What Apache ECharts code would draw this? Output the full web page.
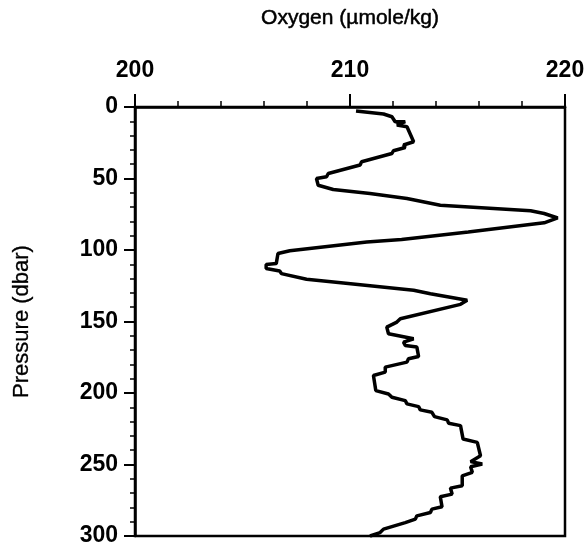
<!DOCTYPE html>
<html>
<head>
<meta charset="utf-8">
<script src="https://cdn.jsdelivr.net/npm/echarts@6/dist/echarts.min.js"></script>
<style>html,body{margin:0;padding:0;background:#fff}#c{width:588px;height:553px}</style>
</head>
<body>
<div id="c"></div>
<script>
var pressure = [2.8,4.9,6.8,10.3,10.3,12.6,13.8,24.3,26.6,28.3,30.6,32.5,38.3,40.6,46.5,48.8,50,54.7,57.7,60.5,64,68.7,72.6,74.5,77.6,81,87.4,92.7,94.4,100.5,102.5,109.5,110.2,113,114.7,116.5,120.5,123.1,128.2,130.6,135.2,138,148.1,150.4,153.9,158.6,162.1,164.4,166.8,167.9,174.5,176.1,178.4,181.9,185.4,187.8,198.3,200.7,203,205.3,207.6,209.5,211.8,213.5,216.5,218.8,221.2,222.8,232.2,234.5,243.9,248,249.7,251.6,255.5,257.9,264.9,266.5,270.7,272.6,279.6,281.2,283.6,285.9,288.2,290.6,291.7,295.2,297.6,300];
var oxygen = [210.28,211.56,211.95,212.1,212.57,212.18,212.65,212.96,212.49,212.57,212.02,211.95,210.54,210.47,208.99,208.91,208.44,208.52,209.22,210.93,212.65,214.2,218.4,219.03,219.66,219.03,215.5,212.4,210.78,207.2,206.65,206.57,206.1,206.1,206.73,206.81,207.98,209.69,212.96,213.74,215.45,215.14,212.34,212.18,211.71,211.79,212.96,212.49,212.57,213.11,213.19,212.72,212.65,211.64,211.64,211.09,211.2,211.79,211.95,212.57,212.65,213.19,213.27,213.81,213.93,214.52,214.59,215.14,215.26,215.92,216.07,215.61,216.15,215.61,215.69,215.22,215.22,214.67,214.75,214.2,214.28,213.81,213.74,213.11,213.04,212.57,212.49,211.56,211.4,210.93];
var xTicks = [200, 210, 220];
var yTicks = [0, 50, 100, 150, 200, 250, 300];

var pts = pressure.map(function(p, i){ return [oxygen[i], p]; });
var font = 'Liberation Sans, Arial, sans-serif';
var chart = echarts.init(document.getElementById('c'));
chart.setOption({
  animation: false,
  grid: {left: 135, right: 23, top: 107, bottom: 17, show: true, borderColor: '#000', borderWidth: 2.5},
  xAxis: {
    type: 'value', position: 'top', min: xTicks[0], max: xTicks[xTicks.length-1], interval: 10,
    name: 'Oxygen (µmole/kg)', nameLocation: 'middle', nameGap: 78,
    nameTextStyle: {fontFamily: font, fontSize: 21, color: '#000', textBorderColor: '#000', textBorderWidth: 0.5},
    axisLine: {show: true, lineStyle: {color: '#000', width: 2.5}},
    axisTick: {show: true, inside: false, length: 13, lineStyle: {color: '#000', width: 2}},
    minorTick: {show: true, splitNumber: 5, length: 6, lineStyle: {color: '#000', width: 1.5}},
    axisLabel: {margin: 25, fontFamily: font, fontSize: 23, fontWeight: 'bold', color: '#000'},
    splitLine: {show: false}
  },
  yAxis: {
    type: 'value', inverse: true, min: yTicks[0], max: yTicks[yTicks.length-1], interval: 50,
    name: 'Pressure (dbar)', nameLocation: 'middle', nameGap: 102, nameRotate: 90,
    nameTextStyle: {fontFamily: font, fontSize: 22, color: '#000', textBorderColor: '#000', textBorderWidth: 0.3},
    axisLine: {show: true, lineStyle: {color: '#000', width: 2.5}},
    axisTick: {show: true, inside: false, length: 11, lineStyle: {color: '#000', width: 2}},
    minorTick: {show: true, splitNumber: 5, length: 5, lineStyle: {color: '#000', width: 1.5}},
    axisLabel: {margin: 17, fontFamily: font, fontSize: 23, fontWeight: 'bold', color: '#000'},
    splitLine: {show: false}
  },
  series: [{
    type: 'line', data: pts, showSymbol: false, symbol: 'none', clip: false,
    lineStyle: {color: '#000', width: 3.5}
  }]
});
</script>
</body>
</html>
